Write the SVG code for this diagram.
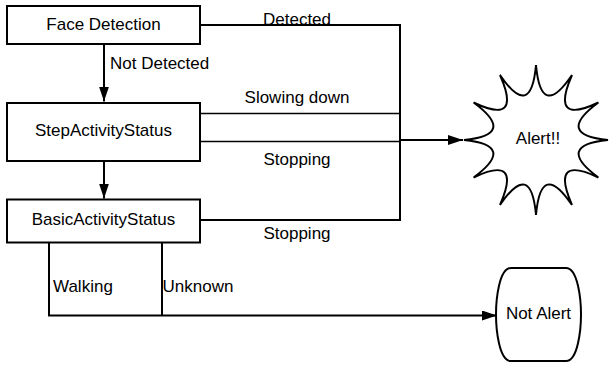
<svg xmlns="http://www.w3.org/2000/svg" width="610" height="367" viewBox="0 0 610 367">
<style>
.box{fill:#fff;stroke:#000;stroke-width:2}
.ln{fill:none;stroke:#000;stroke-width:2}
.thin{fill:none;stroke:#000;stroke-width:1.6}
text{font-family:"Liberation Sans",Arial,sans-serif;font-size:17px;fill:#000}
.c{text-anchor:middle}
</style>
<defs>
<marker id="arr" markerUnits="userSpaceOnUse" markerWidth="16" markerHeight="11" refX="15" refY="5" orient="auto" viewBox="0 0 16 11">
<path d="M0,0 L15,5 L0,10 Z" fill="#000"/>
</marker>
</defs>
<rect width="610" height="367" fill="#fff"/>
<g id="connectors">
<path class="ln" d="M200,25 H400 V220 H200"/>
<path class="thin" d="M200,113.5 H400"/>
<path class="thin" d="M200,141.5 H400"/>
<path class="ln" d="M400,140 H463" stroke-width="2.5" marker-end="url(#arr)"/>
<path class="ln" d="M104,44 V101.5" marker-end="url(#arr)"/>
<path class="ln" d="M104,161 V198.5" marker-end="url(#arr)"/>
<path class="ln" d="M49,242.5 V315.5 H497" marker-end="url(#arr)"/>
<path class="ln" d="M162,242.5 V315"/>
<text x="297" y="25" class="c">Detected</text>
<text x="110" y="68.5">Not Detected</text>
<text x="297" y="103" class="c">Slowing down</text>
<text x="297" y="165" class="c">Stopping</text>
<text x="297" y="238.5" class="c">Stopping</text>
<text x="53" y="291.5">Walking</text>
<text x="162.5" y="291.5">Unknown</text>
</g>
<g id="face-detection">
<rect class="box" x="7" y="6" width="193" height="38"/>
<text x="103.5" y="29.5" class="c">Face Detection</text>
</g>
<g id="step-activity-status">
<rect class="box" x="7" y="103" width="193" height="58"/>
<text x="103.5" y="135.5" class="c">StepActivityStatus</text>
</g>
<g id="basic-activity-status">
<rect class="box" x="7" y="199.5" width="193" height="43"/>
<text x="103.5" y="224.5" class="c">BasicActivityStatus</text>
</g>
<g id="alert">
<path class="box" stroke-width="2.8" stroke-linejoin="miter" d="M608,140 Q554.5,134.8 598.4,102.5 Q549.6,125.9 572,75 Q541,120.7 536,65 Q531,120.7 500,75 Q522.4,125.9 473.6,102.5 Q517.5,134.8 464,140 Q517.5,145.2 473.6,177.5 Q522.4,154.1 500,205 Q531,159.3 536,215 Q541,159.3 572,205 Q549.6,154.1 598.4,177.5 Q554.5,145.2 608,140 Z"/>
<text x="538" y="143.5" class="c">Alert!!</text>
</g>
<g id="not-alert">
<path class="box" d="M511,268 H566 C578,268 581,300 581,314.5 C581,329 578,361 566,361 H511 C499,361 496,329 496,314.5 C496,300 499,268 511,268 Z"/>
<text x="538.5" y="318.5" class="c">Not Alert</text>
</g>
</svg>
